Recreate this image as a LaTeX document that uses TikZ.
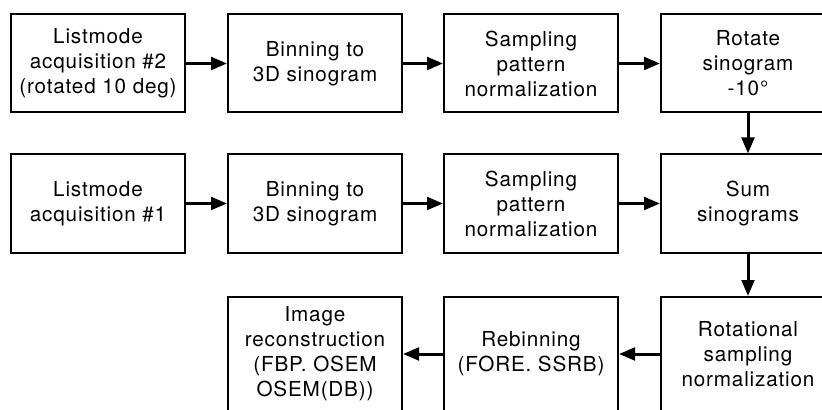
\documentclass[tikz,border=0pt]{standalone}
\usepackage{fontspec}
\setmainfont{TeX Gyre Heros}[LetterSpace=4]
\usetikzlibrary{arrows.meta}
\tikzstyle{BOX}+=[draw,line width=1.5pt,minimum width=130.5pt,minimum height=73.5pt,inner sep=0pt,align=center,font=\fontsize{15.5}{18.75}\selectfont]
\tikzstyle{TALL}+=[minimum height=85.5pt]
\tikzstyle{ARR}+=[line width=2.25pt,-{Triangle[length=12pt,width=9.5pt]}]

\begin{document}
\begin{tikzpicture}[x=0.75pt,y=-0.75pt]
        \useasboundingbox (0,0) rectangle (822,410);
        \clip (0,0) rectangle (822,410);

        % first acquisition row
        \node[BOX] (acqtwo) at (98,63.5) {Listmode\\acquisition \#2\\(rotated 10 deg)};
        \node[BOX] (bintwo) at (315,63.5) {Binning to\\3D sinogram};
        \node[BOX] (normtwo) at (531,63.5) {Sampling\\pattern\\normalization};
        \node[BOX] (rot) at (748,63.5) {Rotate\\sinogram\\-10°};

        % second acquisition row
        \node[BOX] (acqone) at (98,203.5) {Listmode\\acquisition \#1};
        \node[BOX] (binone) at (315,203.5) {Binning to\\3D sinogram};
        \node[BOX] (normone) at (531,203.5) {Sampling\\pattern\\normalization};
        \node[BOX] (sum) at (748,203.5) {Sum\\sinograms};

        % reconstruction row
        \node[BOX,TALL] (recon) at (315,354) {Image\\reconstruction\\(FBP. OSEM\\OSEM(DB))};
        \node[BOX,TALL] (rebin) at (531,354) {Rebinning\\(FORE. SSRB)};
        \node[BOX,TALL] (rotnorm) at (748,354) {Rotational\\sampling\\normalization};

        \draw[ARR] (acqtwo) -- (bintwo);
        \draw[ARR] (bintwo) -- (normtwo);
        \draw[ARR] (normtwo) -- (rot);
        \draw[ARR] (rot) -- (sum);
        \draw[ARR] (acqone) -- (binone);
        \draw[ARR] (binone) -- (normone);
        \draw[ARR] (normone) -- (sum);
        \draw[ARR] (sum) -- (rotnorm);
        \draw[ARR] (rotnorm) -- (rebin);
        \draw[ARR] (rebin) -- (recon);

    \end{tikzpicture}
\end{document}
